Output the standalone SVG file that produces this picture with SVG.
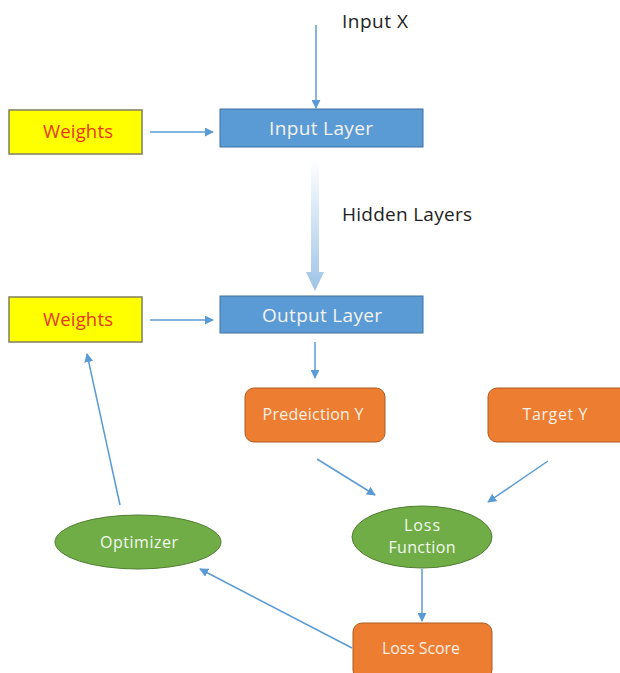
<svg xmlns="http://www.w3.org/2000/svg" width="620" height="673" viewBox="0 0 620 673">
<style>
text{font-family:"Open Sans","Liberation Sans",sans-serif;text-anchor:middle}
.yel{fill:#FFFF00;stroke:#7F7F5F;stroke-width:1.5}
.blu{fill:#5B9BD5;stroke:#41719C;stroke-width:1}
.org{fill:#ED7D31;stroke:#AE5A21;stroke-width:1}
.grn{fill:#70AD47;stroke:#507E32;stroke-width:1}
.wt{fill:#E8381A;font-size:18.5px}
.lt{fill:#F2F2F2;font-size:19px}
.st{fill:#FDF0E6;font-size:16px}
.gt{fill:#F2F8EE;font-size:16px}
.lab{fill:#222;font-size:19px}
.con{stroke:#5B9BD5;stroke-width:1.5;fill:none;marker-end:url(#ah)}
</style>
<defs>
<marker id="ah" viewBox="0 0 10 10" refX="9" refY="5" markerWidth="9" markerHeight="9" markerUnits="userSpaceOnUse" orient="auto">
<path d="M0,0 L10,5 L0,10 z" fill="#5B9BD5"/>
</marker>
<linearGradient id="hg" x1="0" y1="0" x2="0" y2="1">
<stop offset="0" stop-color="#FFFFFF"/>
<stop offset="1" stop-color="#9DC3E6"/>
</linearGradient>
</defs>
<rect width="620" height="673" fill="#FFFFFF"/>
<g id="connectors">
<line class="con" x1="316" y1="25" x2="316" y2="108"/>
<line class="con" x1="150" y1="132" x2="213" y2="132"/>
<path d="M311,160 L319,160 L319,272 L324,272 L315,291 L306,272 L311,272 z" fill="url(#hg)"/>
<line class="con" x1="150" y1="320" x2="213" y2="320"/>
<line class="con" x1="315" y1="342" x2="315" y2="378"/>
<line class="con" x1="317" y1="459" x2="375" y2="495"/>
<line class="con" x1="548" y1="461" x2="488" y2="502"/>
<line class="con" x1="422" y1="569" x2="422" y2="621"/>
<line class="con" x1="352" y1="648" x2="200" y2="569"/>
<line class="con" x1="120" y1="505" x2="87" y2="354"/>
</g>
<g id="input-x"><text class="lab" x="375" y="28" textLength="66">Input X</text></g>
<g id="hidden-layers"><text class="lab" x="407" y="221" textLength="130">Hidden Layers</text></g>
<g id="weights1"><rect class="yel" x="9" y="110" width="133" height="44"/><text class="wt" x="78" y="138" textLength="70">Weights</text></g>
<g id="input-layer"><rect class="blu" x="220" y="109" width="203" height="38"/><text class="lt" x="321" y="135" textLength="104">Input Layer</text></g>
<g id="weights2"><rect class="yel" x="9" y="297" width="133" height="45"/><text class="wt" x="78" y="326" textLength="70">Weights</text></g>
<g id="output-layer"><rect class="blu" x="220" y="296" width="203" height="37"/><text class="lt" x="322" y="322" textLength="120">Output Layer</text></g>
<g id="prediction-y"><rect class="org" x="245" y="388" width="140" height="54" rx="9"/><text class="st" x="313" y="420" textLength="101">Predeiction Y</text></g>
<g id="target-y"><rect class="org" x="488" y="388" width="145" height="54" rx="9"/><text class="st" x="555" y="420" textLength="65">Target Y</text></g>
<g id="loss-function"><ellipse class="grn" cx="422" cy="537" rx="70" ry="31"/><text class="gt" x="422" y="531" textLength="36">Loss</text><text class="gt" x="422" y="553" textLength="67">Function</text></g>
<g id="optimizer"><ellipse class="grn" cx="138" cy="542" rx="83" ry="27"/><text class="gt" x="139" y="548" textLength="78">Optimizer</text></g>
<g id="loss-score"><rect class="org" x="353" y="623" width="139" height="56" rx="9"/><text class="st" x="421" y="654" textLength="78">Loss Score</text></g>
</svg>
